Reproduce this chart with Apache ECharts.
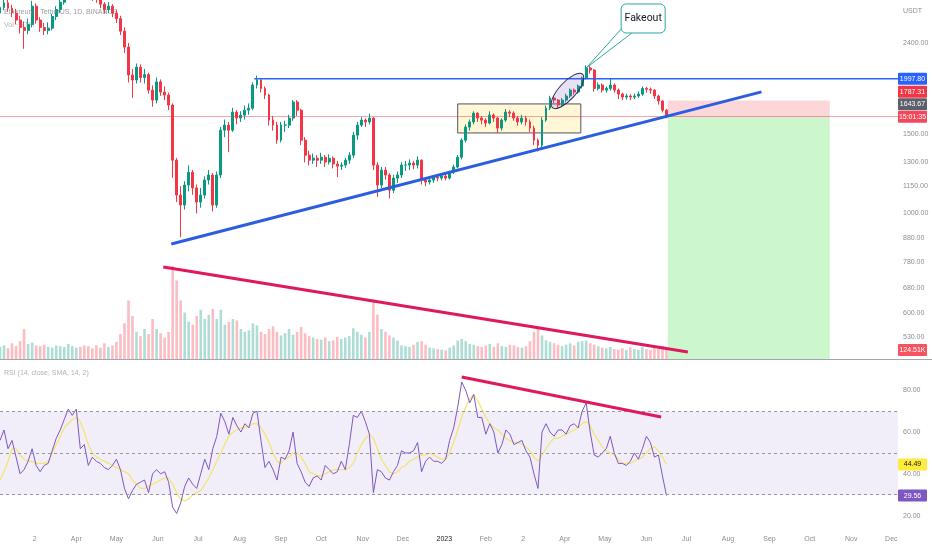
<!DOCTYPE html>
<html><head><meta charset="utf-8">
<script src="https://cdn.jsdelivr.net/npm/echarts@6/dist/echarts.min.js"></script>
<style>html,body{margin:0;padding:0;background:#fff}#c{width:932px;height:550px}</style>
</head><body><div id="c"></div>
<script>
// ---------- data (3-day bars, ETH/USDT) ----------
const startDay = '2022-02-03';
const barStepDays = 3;
const viewEndDay = '2023-12-06';
const firstOpen = 2800;
const closes = [2880,2950,2870,2800,2700,2600,2560,2640,2900,2700,
2600,2560,2590,2750,2850,2960,3100,3300,3400,3450,
3350,3200,3100,3050,3000,2930,2850,2900,2800,2720,
2550,2350,2036,1985,2120,2010,2040,1884,1790,1965,
1865,1837,1745,1315,1099,1044,1157,1236,1140,1060,
1099,1187,1218,1044,1218,1534,1574,1534,1683,1632,
1657,1700,1717,1934,1985,1900,1837,1615,1574,1457,
1574,1574,1632,1772,1700,1457,1349,1315,1328,1315,
1335,1302,1328,1289,1275,1282,1315,1349,1495,1574,
1615,1600,1632,1282,1157,1249,1218,1127,1199,1218,
1282,1282,1295,1282,1315,1187,1175,1187,1205,1199,
1212,1199,1236,1269,1335,1457,1558,1600,1674,1632,
1615,1591,1657,1632,1550,1615,1683,1674,1632,1600,
1632,1600,1550,1457,1420,1615,1717,1809,1790,1745,
1790,1828,1884,1865,1924,2005,2111,2089,1900,1934,
1884,1900,1934,1884,1846,1818,1828,1818,1828,1846,
1900,1892,1884,1828,1781,1700,1643.67];
const highs = [2960,3000,3010,2920,2860,2760,2680,2720,2980,2940,
2740,2660,2670,2790,2900,3010,3200,3400,3480,3520,
3480,3380,3250,3150,3100,3040,2960,2960,2930,2850,
2760,2600,2400,2100,2160,2150,2100,2060,1930,2010,
1990,1920,1860,1760,1330,1150,1180,1280,1250,1160,
1140,1210,1250,1230,1240,1560,1620,1600,1720,1700,
1690,1740,1760,1960,2030,1990,1920,1850,1650,1600,
1600,1610,1660,1790,1790,1710,1480,1380,1360,1350,
1365,1350,1355,1340,1310,1300,1330,1370,1520,1600,
1640,1630,1670,1640,1300,1270,1270,1230,1220,1240,
1300,1310,1320,1310,1340,1320,1200,1200,1215,1215,
1225,1220,1245,1285,1350,1470,1580,1620,1690,1680,
1650,1630,1690,1670,1640,1630,1710,1700,1690,1650,
1660,1650,1620,1570,1470,1640,1740,1830,1830,1800,
1810,1850,1900,1900,1940,2020,2140,2130,2100,1960,
1950,1920,2000,1950,1900,1860,1850,1845,1850,1870,
1920,1915,1910,1895,1840,1790,1710];
const lows = [2740,2840,2820,2740,2640,2520,2330,2510,2600,2650,
2540,2500,2510,2560,2700,2800,2920,3050,3250,3350,
3280,3130,3020,2980,2950,2870,2790,2800,2740,2660,
2500,2280,1960,1810,1950,1960,1950,1850,1730,1760,
1830,1790,1700,1200,1060,885,1020,1120,1100,1000,
1030,1080,1160,1010,1030,1200,1480,1370,1520,1580,
1600,1620,1660,1700,1900,1860,1800,1570,1530,1430,
1440,1520,1550,1610,1650,1420,1300,1280,1290,1270,
1290,1270,1285,1260,1205,1250,1265,1290,1330,1460,
1560,1560,1580,1250,1088,1140,1190,1080,1110,1170,
1200,1245,1250,1255,1260,1160,1150,1160,1170,1180,
1185,1185,1190,1225,1260,1320,1440,1530,1580,1600,
1580,1560,1580,1600,1510,1530,1600,1640,1610,1570,
1580,1570,1520,1420,1375,1400,1600,1700,1760,1720,
1730,1770,1810,1840,1850,1900,1990,2050,1870,1880,
1860,1860,1880,1860,1800,1790,1795,1790,1800,1810,
1830,1860,1850,1800,1750,1680,1630];
// volume in thousands
const volumes = [170,190,150,220,180,250,420,210,230,190,
180,200,170,160,190,180,170,210,180,160,
170,190,180,150,190,160,220,170,190,240,
350,500,820,600,380,320,420,350,560,420,
360,300,380,1300,1100,820,650,520,480,600,
690,560,620,700,560,690,480,520,560,540,
420,380,400,500,470,380,350,420,460,380,
330,360,420,340,380,450,360,320,300,280,
270,300,250,260,310,280,300,320,430,380,
340,300,380,830,620,420,380,330,300,260,
190,180,170,200,240,250,200,160,150,140,
130,120,160,190,260,280,250,210,200,180,
170,190,210,170,220,180,170,200,190,170,
160,180,250,380,440,330,260,240,220,200,
180,200,220,190,240,250,260,220,200,180,
160,150,170,140,130,150,125,160,140,130,
170,140,125,170,160,180,124.51];
const rsi = [56,61,52,56,48,40,42,46,52,44,
41,44,45,51,57,61,66,71,68,71,
52,54,44,48,46,45,43,42,44,47,
42,33,28,32,35,36,37,31,40,42,
40,41,36,24,21,26,34,38,35,33,
40,47,42,52,58,69,65,59,67,63,
60,64,62,69,70,56,43,46,42,37,
48,47,51,60,45,41,36,34,38,39,
37,44,42,40,41,46,42,54,68,67,
70,65,59,31,42,41,38,37,41,44,
51,50,50,51,55,41,46,48,46,46,
45,47,56,62,72,84,80,74,78,67,
67,59,64,60,50,54,61,59,54,55,
56,51,48,40,33,60,64,60,58,61,
61,59,63,64,62,70,74,60,49,48,
50,52,58,50,45,45,44,46,50,47,
52,58,55,48,49,39,29.56];
const rsiMa = [37,41,46,52,52,49,47,46,46,45,
45,45,46,50,54,58,62,64,66,67,
65,60,54,50,48,47,46,45,44,43,
42,41,40,37,35,33,33,34,35,36,
37,38,38,35,31,28,27,28,30,31,
32,35,38,42,46,50,54,58,60,61,
62,62,63,64,64,62,59,55,50,46,
45,47,48,50,50,48,45,41,40,39,
39,40,41,42,42,42,42,43,45,50,
54,57,59,57,52,47,44,41,40,41,
43,44,46,47,48,49,49,50,49,48,
47,47,50,55,61,67,72,76,78,75,
71,67,64,62,61,59,57,56,55,55,
54,53,51,48,46,49,52,55,57,57,
58,59,60,61,62,64,65,63,59,56,
53,51,50,49,47,45,45,45,46,47,
48,50,52,53,51,48,44.49];
// axis ticks
const priceTicks = [530,600,680,780,880,1000,1150,1300,1500,2400];
const rsiTicks = [20,40,60,80];
const monthTickDays = ['2022-03-01','2022-04-01','2022-05-01','2022-06-01','2022-07-01','2022-08-01','2022-09-01','2022-10-01','2022-11-01','2022-12-01','2023-01-01','2023-02-01','2023-03-01','2023-04-01','2023-05-01','2023-06-01','2023-07-01','2023-08-01','2023-09-01','2023-10-01','2023-11-01','2023-12-01'];
const monthTickLabels = ['2','Apr','May','Jun','Jul','Aug','Sep','Oct','Nov','Dec','2023','Feb','2','Apr','May','Jun','Jul','Aug','Sep','Oct','Nov','Dec'];
// levels & drawings (data coordinates)
const resistanceLevel = 1997.80;
const stopLevel = 1787.31;
const entryLevel = 1643.67;
const countdownText = '15:01:35';
const lastVolumeText = '124.51K';
const rsiLast = 29.56, rsiMaLast = 44.49;
const resistanceLine = [['2022-08-12',1997.8],['2023-12-06',1997.8]];
const supportTrend = [['2022-06-11',855],['2023-08-26',1867]];
const rangeBox = [['2023-01-11',1755],['2023-04-13',1512]];
const zoneDays = ['2023-06-17','2023-10-16'];
const volumeTrend = [['2022-06-05',1288],['2023-07-02',98]];
const rsiTrend = [['2023-01-14',86.4],['2023-06-12',67.2]];
const ellipseCenter = ['2023-04-03',1876];
const fakeoutTip = ['2023-04-17',2111];

// ---------- build ----------
const FONT = "'Liberation Sans Narrow','Liberation Sans',Roboto,sans-serif";
const DAY = 864e5;
const t = s => Date.parse(s + 'T00:00:00Z');
const t0 = t(startDay);
const barTime = closes.map((_, i) => t0 + i * barStepDays * DAY);
const opens = closes.map((c, i) => i === 0 ? firstOpen : closes[i - 1]);
const candleData = closes.map((c, i) => [barTime[i], opens[i], c, lows[i], highs[i]]);
const UP = '#089981', DOWN = '#f23645';
const volData = volumes.map((v, i) => ({value: [barTime[i], v], itemStyle: {color: closes[i] >= opens[i] ? 'rgba(8,153,129,0.33)' : 'rgba(242,54,69,0.33)'}}));
const rsiData = rsi.map((v, i) => [barTime[i], v]);
const maData = rsiMa.map((v, i) => [barTime[i], v]);
const toT = arr => arr.map(p => [t(p[0]), p[1]]);
const xMin = t0, xMax = t(viewEndDay);
const monthTicks = monthTickDays.map(t);
const PRICE_MIN = 473.5, PRICE_MAX = 2993;
const GRAY = '#8a8d96';

const xBase = {type: 'value', min: xMin, max: xMax, scale: true, axisLine: {show: false}, axisTick: {show: false}, splitLine: {show: false}};
const lblBase = {color: GRAY, fontSize: 7, fontFamily: FONT};

const chart = echarts.init(document.getElementById('c'));
chart.setOption({
  animation: false, backgroundColor: '#ffffff',
  grid: [
    {left: 0, right: 34, top: 0, height: 359},
    {left: 0, right: 34, top: 259, height: 100},
    {left: 0, right: 34, top: 359, height: 167}
  ],
  xAxis: [
    Object.assign({}, xBase, {gridIndex: 0, axisLabel: {show: false}}),
    Object.assign({}, xBase, {gridIndex: 1, axisLabel: {show: false}}),
    Object.assign({}, xBase, {gridIndex: 2, axisLabel: Object.assign({}, lblBase, {
      show: true, customValues: monthTicks, margin: 10, hideOverlap: false,
      formatter: v => {
        let best = 0, d = Infinity;
        monthTicks.forEach((m, i) => { const dd = Math.abs(m - v); if (dd < d) { d = dd; best = i; } });
        const s = monthTickLabels[best];
        return /^\d{4}$/.test(s) ? '{y|' + s + '}' : s;
      },
      rich: {y: {color: '#131722', fontSize: 7, fontFamily: FONT}}
    })})
  ],
  yAxis: [
    {type: 'log', gridIndex: 0, position: 'right', min: PRICE_MIN, max: PRICE_MAX,
     axisLine: {show: false}, axisTick: {show: false}, splitLine: {show: false},
     axisLabel: Object.assign({}, lblBase, {customValues: priceTicks, formatter: v => Number(v).toFixed(2), margin: 5})},
    {type: 'value', gridIndex: 1, min: 0, max: 1400, show: false},
    {type: 'value', gridIndex: 2, position: 'right', min: 15, max: 95,
     axisLine: {show: false}, axisTick: {show: false}, splitLine: {show: false},
     axisLabel: Object.assign({}, lblBase, {customValues: rsiTicks, formatter: v => Number(v).toFixed(2), margin: 5})}
  ],
  series: [
    {type: 'line', xAxisIndex: 0, yAxisIndex: 0, data: toT(resistanceLine), symbol: 'none', z: 1,
     lineStyle: {width: 0, opacity: 0}, silent: true,
     markArea: {silent: true, data: [
       [{coord: [t(zoneDays[0]), entryLevel], itemStyle: {color: 'rgba(242,54,69,0.2)'}}, {coord: [t(zoneDays[1]), stopLevel]}],
       [{coord: [t(zoneDays[0]), PRICE_MIN], itemStyle: {color: 'rgba(40,220,40,0.24)'}}, {coord: [t(zoneDays[1]), entryLevel]}]
     ]}},
    {type: 'bar', xAxisIndex: 1, yAxisIndex: 1, data: volData, barWidth: 2.6, z: 2, silent: true},
    {type: 'candlestick', xAxisIndex: 0, yAxisIndex: 0, data: candleData, encode: {x: 0, y: [1, 2, 3, 4]},
     barWidth: 2.4, clip: true, z: 3,
     itemStyle: {color: UP, color0: DOWN, borderColor: UP, borderColor0: DOWN, borderWidth: 1},
     markLine: {silent: true, symbol: 'none', label: {show: false},
       lineStyle: {color: 'rgba(242,54,69,0.45)', width: 1, type: 'solid'}, data: [{yAxis: entryLevel}]},
     markArea: {silent: true, data: [[
       {coord: [t(rangeBox[0][0]), rangeBox[0][1]], itemStyle: {color: 'rgba(255,230,120,0.3)', borderColor: '#50535e', borderWidth: 1}},
       {coord: [t(rangeBox[1][0]), rangeBox[1][1]]}
     ]]}},
    {type: 'line', xAxisIndex: 0, yAxisIndex: 0, data: toT(resistanceLine), symbol: 'none', z: 5,
     lineStyle: {color: '#2962ff', width: 1.5}},
    {type: 'line', xAxisIndex: 0, yAxisIndex: 0, data: toT(supportTrend), symbol: 'none', z: 6,
     lineStyle: {color: '#2b5de0', width: 3}},
    {type: 'line', xAxisIndex: 1, yAxisIndex: 1, data: toT(volumeTrend), symbol: 'none', z: 6,
     lineStyle: {color: '#e0195f', width: 3}},
    {type: 'line', xAxisIndex: 2, yAxisIndex: 2, data: rsiData, symbol: 'none', z: 3,
     lineStyle: {color: '#7e57c2', width: 1},
     markArea: {silent: true, itemStyle: {color: 'rgba(126,87,194,0.1)'}, data: [[{yAxis: 30}, {yAxis: 70}]]},
     markLine: {silent: true, symbol: 'none', label: {show: false},
       lineStyle: {color: '#9598a1', width: 1, type: [3, 3]}, data: [{yAxis: 70}, {yAxis: 50}, {yAxis: 30}]}},
    {type: 'line', xAxisIndex: 2, yAxisIndex: 2, data: maData, symbol: 'none', z: 2,
     lineStyle: {color: '#f3e46a', width: 1.2}},
    {type: 'line', xAxisIndex: 2, yAxisIndex: 2, data: toT(rsiTrend), symbol: 'none', z: 6,
     lineStyle: {color: '#e0195f', width: 3}}
  ]
});

// ---------- annotations (positioned from data coordinates) ----------
const px = (g, p) => chart.convertToPixel({gridIndex: g}, [t(p[0]), p[1]]);
const yOf = (g, v) => chart.convertToPixel({gridIndex: g}, [xMin, v])[1];
function tag(y, txt, bg, fg) {
  return {type: 'group', z: 300, children: [
    {type: 'rect', shape: {x: 898, y: y - 6, width: 29, height: 12, r: 1}, style: {fill: bg}},
    {type: 'text', style: {x: 912.5, y: y, text: txt, fill: fg || '#fff', fontSize: 7, fontFamily: FONT, align: 'center', verticalAlign: 'middle'}}
  ]};
}
const ec = px(0, ellipseCenter);
const tip = px(0, fakeoutTip);
const entryY = yOf(0, entryLevel);
const TEAL = '#2aa8a8';
chart.setOption({graphic: [
  {type: 'text', z: 250, style: {x: 4, y: 12, text: 'Ethereum / TetherUS, 1D, BINANCE', fill: 'rgba(120,123,134,0.75)', fontSize: 7, fontFamily: FONT, verticalAlign: 'middle'}},
  {type: 'text', z: 250, style: {x: 4, y: 25, text: 'Vol · ETH', fill: 'rgba(120,123,134,0.6)', fontSize: 7, fontFamily: FONT, verticalAlign: 'middle'}},
  {type: 'text', z: 250, style: {x: 4, y: 373, text: 'RSI (14, close, SMA, 14, 2)', fill: 'rgba(120,123,134,0.6)', fontSize: 7, fontFamily: FONT, verticalAlign: 'middle'}},
  {type: 'text', z: 250, style: {x: 903, y: 11, text: 'USDT', fill: GRAY, fontSize: 7, fontFamily: FONT, verticalAlign: 'middle'}},
  {type: 'line', z: 250, shape: {x1: 0, y1: 359.5, x2: 932, y2: 359.5}, style: {stroke: '#a3a6af', lineWidth: 1}},
  {type: 'ellipse', z: 260, x: ec[0], y: ec[1], rotation: 48 * Math.PI / 180,
   shape: {cx: 0, cy: 0, rx: 22.5, ry: 8.5}, style: {fill: 'rgba(126,87,194,0.18)', stroke: '#2a2e5a', lineWidth: 1}},
  {type: 'polygon', z: 270, shape: {points: [[tip[0], tip[1]], [tip[0] + 36, tip[1] - 40], [tip[0] + 47, tip[1] - 36]]},
   style: {fill: '#fff', stroke: TEAL, lineWidth: 1}},
  {type: 'rect', z: 271, shape: {x: tip[0] + 35, y: tip[1] - 64, width: 44, height: 29, r: 5},
   style: {fill: '#fff', stroke: TEAL, lineWidth: 1}},
  {type: 'text', z: 272, style: {x: tip[0] + 57, y: tip[1] - 49.5, text: 'Fakeout', fill: '#131722', fontSize: 10.5, fontFamily: "Roboto,'Liberation Sans',sans-serif", align: 'center', verticalAlign: 'middle'}},
  tag(yOf(0, resistanceLevel), resistanceLevel.toFixed(2), '#2962ff'),
  tag(entryY - 25, stopLevel.toFixed(2), '#f23645'),
  tag(entryY - 12.5, entryLevel.toFixed(2), '#5d606b'),
  tag(entryY, countdownText, '#f5475b'),
  tag(yOf(1, volumes[volumes.length - 1]) , lastVolumeText, '#f7525f'),
  tag(yOf(2, rsiMaLast), rsiMaLast.toFixed(2), '#ffeb3b', '#131722'),
  tag(yOf(2, rsiLast), rsiLast.toFixed(2), '#7e57c2')
]});
</script>
</body></html>
